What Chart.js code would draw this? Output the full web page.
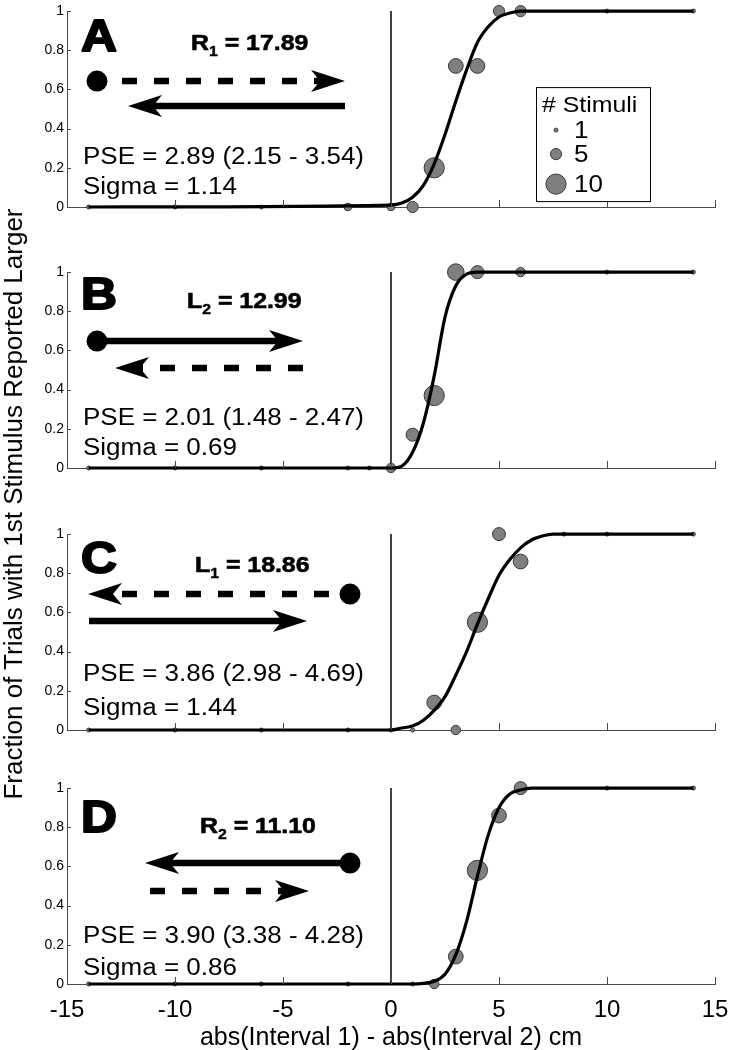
<!DOCTYPE html>
<html>
<head>
<meta charset="utf-8">
<script src="https://cdn.jsdelivr.net/npm/chart.js@4"></script>
<style>
  body { margin: 0; background: #fff; }
  #wrap { position: relative; width: 732px; height: 1050px; overflow: hidden; }
  canvas { position: absolute; left: 0; }
  #ytitle {
    position: absolute; left: -337px; top: 489px; width: 700px; height: 30px;
    line-height: 30px; text-align: center; white-space: nowrap;
    font: 26px "Liberation Sans", Arial, sans-serif; color: #000;
    transform: rotate(-90deg); transform-origin: 50% 50%;
  }
</style>
</head>
<body>
<div id="wrap">
  <canvas id="panel-A" width="732" height="225" style="top:0px"></canvas>
  <canvas id="panel-B" width="732" height="225" style="top:261px"></canvas>
  <canvas id="panel-C" width="732" height="225" style="top:523px"></canvas>
  <canvas id="panel-D" width="732" height="273" style="top:777px"></canvas>
  <div id="ytitle">Fraction of Trials with 1st Stimulus Reported Larger</div>
</div>
<script>
// ---- data ----
const panelLetters = ["A", "B", "C", "D"];
const condLetter = ["R", "L", "L", "R"];
const condIndex = ["1", "2", "1", "2"];
const condValue = ["17.89", "12.99", "18.86", "11.10"];
const pseLabels = [
  "PSE = 2.89 (2.15 - 3.54)",
  "PSE = 2.01 (1.48 - 2.47)",
  "PSE = 3.86 (2.98 - 4.69)",
  "PSE = 3.90 (3.38 - 4.28)",
];
const sigmaLabels = ["Sigma = 1.14", "Sigma = 0.69", "Sigma = 1.44", "Sigma = 0.86"];

const xTickValues = [-15, -10, -5, 0, 5, 10, 15];
const yTickValues = [0, 0.2, 0.4, 0.6, 0.8, 1];
const legendCounts = [1, 5, 10];
const xTitle = "abs(Interval 1) - abs(Interval 2) cm";

// A: R1
const diffA = [-14, -10, -6, -2, 0, 1, 2, 3, 4, 5, 6, 10, 14];
const fracA = [0, 0, 0, 0, 0, 0, 0.2, 0.72, 0.72, 1, 1, 1, 1];
const countA = [1, 1, 1, 3, 3, 5, 10, 7, 7, 5, 5, 1, 1];
const fitXA = [-14, 0, 0.5, 1, 1.5, 2, 2.5, 3, 3.5, 4, 4.5, 5, 5.5, 6, 14];
const fitYA = [0, 0.01, 0.02, 0.05, 0.11, 0.22, 0.37, 0.54, 0.7, 0.84, 0.92, 0.97, 0.99, 1, 1];

// B: L2
const diffB = [-14, -10, -6, -2, -1, 0, 1, 2, 3, 4, 6, 10, 14];
const fracB = [0, 0, 0, 0, 0, 0, 0.17, 0.37, 1, 1, 1, 1, 1];
const countB = [1, 1, 1, 1, 1, 4, 6, 10, 8, 6, 4, 1, 1];
const fitXB = [-14, 0, 0.5, 1, 1.5, 2, 2.5, 3, 3.5, 4, 14];
const fitYB = [0, 0, 0.01, 0.08, 0.23, 0.47, 0.77, 0.93, 0.99, 1, 1];

// C: L1
const diffC = [-14, -10, -6, -2, 0, 1, 2, 3, 4, 5, 6, 8, 10, 14];
const fracC = [0, 0, 0, 0, 0, 0, 0.14, 0, 0.55, 1, 0.86, 1, 1, 1];
const countC = [1, 1, 1, 1, 1, 1, 7, 4, 10, 6, 7, 1, 1, 1];
const fitXC = [-14, 0, 0.5, 1, 1.5, 2, 2.5, 3, 3.5, 4, 4.5, 5, 5.5, 6, 6.5, 7, 7.5, 8, 14];
const fitYC = [0, 0, 0.01, 0.02, 0.05, 0.1, 0.17, 0.28, 0.4, 0.54, 0.67, 0.79, 0.87, 0.93, 0.97, 0.99, 1, 1, 1];

// D: R2
const diffD = [-14, -10, -6, -2, 1, 2, 3, 4, 5, 6, 10, 14];
const fracD = [0, 0, 0, 0, 0, 0, 0.14, 0.58, 0.86, 1, 1, 1];
const countD = [1, 1, 1, 1, 1, 4, 7, 10, 7, 6, 1, 1];
const fitXD = [-14, 1, 1.5, 2, 2.5, 3, 3.5, 4, 4.5, 5, 5.5, 6, 6.5, 14];
const fitYD = [0, 0, 0.003, 0.014, 0.05, 0.15, 0.32, 0.55, 0.76, 0.9, 0.97, 0.99, 1, 1];

const panels = [
  { diff: diffA, frac: fracA, count: countA, fitX: fitXA, fitY: fitYA },
  { diff: diffB, frac: fracB, count: countB, fitX: fitXB, fitY: fitYB },
  { diff: diffC, frac: fracC, count: countC, fitX: fitXC, fitY: fitYC },
  { diff: diffD, frac: fracD, count: countD, fitX: fitXD, fitY: fitYD },
];

// ---- styling ----
Chart.defaults.font.family = '"Liberation Sans", Arial, sans-serif';
Chart.defaults.color = "#000";

const FONT = '"Liberation Sans", Arial, sans-serif';
const STRETCH = 1.13; // reference text is a little wider than Arial
const AXIS_COLOR = "#4a4a4a";
const markerRadius = (n) => 0.9 * n + 1.1;

// sketch positions, relative to the top-left of each plot area
const sketch = [
  { letterY: 40, titleX: 124, titleY: 39, dot: [30, 70],
    arrows: [{ from: 55, to: 278, y: 70, dashed: true }, { from: 278, to: 61, y: 95, dashed: false }],
    pseY: 153, sigmaY: 183 },
  { letterY: 37, titleX: 120, titleY: 36, dot: [30, 69],
    arrows: [{ from: 30, to: 236, y: 69, dashed: false }, { from: 236, to: 48, y: 96, dashed: true }],
    pseY: 153, sigmaY: 183 },
  { letterY: 39, titleX: 128, titleY: 38, dot: [283, 60],
    arrows: [{ from: 262, to: 21, y: 60, dashed: true }, { from: 22, to: 240, y: 87, dashed: false }],
    pseY: 147, sigmaY: 181 },
  { letterY: 44, titleX: 133, titleY: 45, dot: [283, 75],
    arrows: [{ from: 283, to: 78, y: 75, dashed: false }, { from: 83, to: 242, y: 103, dashed: true }],
    pseY: 155, sigmaY: 187 },
];

function wideText(ctx, text, x, y, font, heavy) {
  ctx.save();
  ctx.font = font;
  ctx.translate(x, y);
  ctx.scale(STRETCH, 1);
  if (heavy) {
    ctx.lineWidth = heavy;
    ctx.lineJoin = "round";
    ctx.strokeStyle = ctx.fillStyle;
    ctx.strokeText(text, 0, 0);
  }
  ctx.fillText(text, 0, 0);
  const w = ctx.measureText(text).width * STRETCH;
  ctx.restore();
  return w;
}

function drawArrow(ctx, x1, x2, y, dashed) {
  const dir = Math.sign(x2 - x1);
  const headLen = 34, half = 11, notch = 9;
  const back = x2 - dir * headLen;
  ctx.save();
  ctx.strokeStyle = "#000";
  ctx.fillStyle = "#000";
  ctx.lineWidth = 6.5;
  ctx.lineCap = "butt";
  ctx.setLineDash(dashed ? [15, 17] : []);
  ctx.beginPath();
  ctx.moveTo(x1, y);
  ctx.lineTo(back + dir * notch, y);
  ctx.stroke();
  ctx.setLineDash([]);
  ctx.beginPath();
  ctx.moveTo(x2, y);
  ctx.lineTo(back, y - half);
  ctx.lineTo(back + dir * notch, y);
  ctx.lineTo(back, y + half);
  ctx.closePath();
  ctx.fill();
  ctx.restore();
}

// inward ticks, the sketch of the condition, and the legend
const panelDecor = {
  id: "panelDecor",
  afterDraw(chart, args, opts) {
    const i = opts.index;
    const ctx = chart.ctx;
    const { left, top, bottom } = chart.chartArea;
    const xs = chart.scales.x, ys = chart.scales.y;

    ctx.save();
    ctx.strokeStyle = AXIS_COLOR;
    ctx.lineWidth = 1;
    ctx.beginPath();
    xTickValues.forEach((v) => {
      const px = Math.round(xs.getPixelForValue(v)) + 0.5;
      ctx.moveTo(px, bottom);
      ctx.lineTo(px, bottom - 7);
    });
    yTickValues.forEach((v) => {
      const py = Math.round(ys.getPixelForValue(v)) + 0.5;
      ctx.moveTo(left, py);
      ctx.lineTo(left + 4, py);
    });
    ctx.stroke();
    ctx.restore();

    const s = sketch[i];
    ctx.save();
    ctx.fillStyle = "#000";
    ctx.textBaseline = "alphabetic";
    ctx.textAlign = "left";
    wideText(ctx, panelLetters[i], left + 14, top + s.letterY, `bold 44px ${FONT}`, 2);

    let tx = left + s.titleX;
    const ty = top + s.titleY;
    tx += wideText(ctx, condLetter[i], tx, ty, `bold 22px ${FONT}`, 0.6);
    tx += wideText(ctx, condIndex[i], tx, ty + 6, `bold 14px ${FONT}`, 0.4);
    wideText(ctx, " = " + condValue[i], tx, ty, `bold 22px ${FONT}`, 0.6);

    s.arrows.forEach((a) => drawArrow(ctx, left + a.from, left + a.to, top + a.y, a.dashed));
    ctx.beginPath();
    ctx.arc(left + s.dot[0], top + s.dot[1], 10.5, 0, Math.PI * 2);
    ctx.fill();

    wideText(ctx, pseLabels[i], left + 16, top + s.pseY, `23px ${FONT}`);
    wideText(ctx, sigmaLabels[i], left + 16, top + s.sigmaY, `23px ${FONT}`);
    ctx.restore();

    if (i === 0) {
      const bx = left + 469, by = top + 76, bw = 114, bh = 114;
      ctx.save();
      ctx.fillStyle = "#fff";
      ctx.fillRect(bx, by, bw, bh);
      ctx.strokeStyle = "#000";
      ctx.lineWidth = 1;
      ctx.strokeRect(bx + 0.5, by + 0.5, bw, bh);
      ctx.fillStyle = "#000";
      wideText(ctx, "# Stimuli", bx + 6, by + 25, `22px ${FONT}`);
      const rowY = [43, 67, 97];
      legendCounts.forEach((n, k) => {
        ctx.beginPath();
        ctx.arc(bx + 20, by + rowY[k], markerRadius(n), 0, Math.PI * 2);
        ctx.fillStyle = "#7f7f7f";
        ctx.fill();
        ctx.strokeStyle = "#3a3a3a";
        ctx.stroke();
        ctx.fillStyle = "#000";
        wideText(ctx, String(n), bx + 38, by + rowY[k] + 8, `23px ${FONT}`);
      });
      ctx.restore();
    }
  },
};

// one chart per panel
panels.forEach((p, i) => {
  const isBottom = i === panels.length - 1;
  const canvas = document.getElementById("panel-" + panelLetters[i]);
  const xHeight = canvas.height - 6 - 201;

  new Chart(canvas, {
    type: "scatter",
    data: {
      datasets: [
        {
          label: "fit",
          data: p.fitX.map((x, k) => ({ x, y: p.fitY[k] })),
          showLine: true,
          borderColor: "#000",
          borderWidth: 3.2,
          pointRadius: 0,
          cubicInterpolationMode: "monotone",
          clip: false,
        },
        {
          label: "responses",
          data: p.diff.map((x, k) => ({ x, y: p.frac[k] })),
          pointRadius: p.count.map(markerRadius),
          backgroundColor: "#7f7f7f",
          borderColor: "#3a3a3a",
          borderWidth: 1,
          clip: false,
        },
        {
          label: "zero",
          data: [{ x: 0, y: 0 }, { x: 0, y: 1 }],
          showLine: true,
          borderColor: "#000",
          borderWidth: 1.5,
          pointRadius: 0,
        },
      ],
    },
    options: {
      responsive: false,
      animation: false,
      events: [],
      layout: { padding: { left: 0, right: 17, top: 6, bottom: 0 } },
      plugins: {
        legend: { display: false },
        tooltip: { enabled: false },
        panelDecor: { index: i },
      },
      scales: {
        x: {
          type: "linear",
          min: -15,
          max: 15,
          afterBuildTicks: (scale) => { scale.ticks = xTickValues.map((v) => ({ value: v })); },
          afterFit: (scale) => { scale.height = xHeight; scale.paddingLeft = 0; scale.paddingRight = 0; },
          grid: { display: false, drawTicks: false },
          border: { color: AXIS_COLOR, width: 1 },
          ticks: { display: isBottom, padding: 12, maxRotation: 0, font: { size: 24 }, color: "#000" },
          title: { display: isBottom, text: xTitle, font: { size: 25 }, color: "#000", padding: { top: 0, bottom: -3 } },
        },
        y: {
          type: "linear",
          min: 0,
          max: 1,
          afterBuildTicks: (scale) => { scale.ticks = yTickValues.map((v) => ({ value: v })); },
          afterFit: (scale) => { scale.width = 67; scale.paddingTop = 0; scale.paddingBottom = 0; },
          grid: { display: false, drawTicks: false },
          border: { color: AXIS_COLOR, width: 1 },
          ticks: { padding: 3, font: { size: 14 }, color: "#000", callback: (v) => String(v) },
        },
      },
    },
    plugins: [panelDecor],
  });
});
</script>
</body>
</html>
